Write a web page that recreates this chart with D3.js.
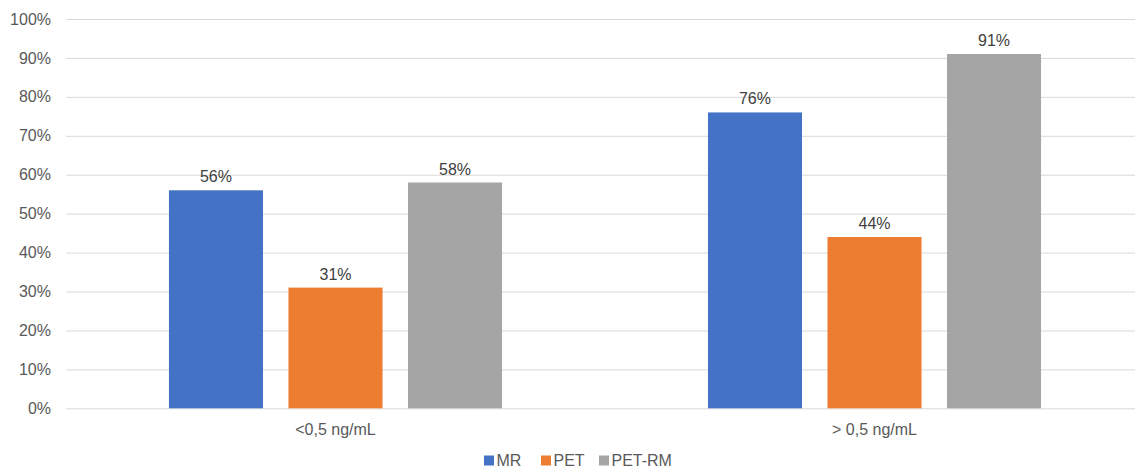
<!DOCTYPE html>
<html>
<head>
<meta charset="utf-8">
<script src="https://cdn.jsdelivr.net/npm/d3@7"></script>
<style>
  html, body { margin: 0; padding: 0; background: #fff; }
  svg { display: block; font-family: "Liberation Sans", Arial, sans-serif; }
</style>
</head>
<body>
<svg id="chart" width="1135" height="470"></svg>
<script>
// Detection rates by PSA level
const categories = ["<0,5 ng/mL", "> 0,5 ng/mL"];
const seriesNames = ["MR", "PET", "PET-RM"];
const seriesColors = ["#4472C4", "#ED7D31", "#A5A5A5"];
const mrValues = [56, 76];
const petValues = [31, 44];
const petRmValues = [58, 91];
const yTicks = [0, 10, 20, 30, 40, 50, 60, 70, 80, 90, 100];

const seriesValues = [mrValues, petValues, petRmValues];

const svg = d3.select("#chart");
const plotLeft = 66, plotRight = 1144, plotTop = 19, plotBottom = 408.3;

const x0 = d3.scaleBand().domain(categories).range([plotLeft, plotRight])
  .paddingInner(0.382).paddingOuter(0.191);
const x1 = d3.scaleBand().domain(seriesNames).range([0, x0.bandwidth()])
  .paddingInner(0.213).paddingOuter(0);
const y = d3.scaleLinear().domain([0, 100]).range([plotBottom, plotTop]);

// Horizontal gridlines and y labels
const yAxis = svg.append("g")
  .attr("transform", `translate(${plotLeft},0)`)
  .call(d3.axisLeft(y).tickValues(yTicks).tickFormat(d => d + "%")
    .tickSize(-(plotRight - plotLeft)).tickPadding(15));
yAxis.select(".domain").remove();
yAxis.selectAll(".tick line").attr("stroke", "#d9d9d9").attr("stroke-width", 1);
yAxis.selectAll(".tick text").attr("fill", "#595959").style("font-size", "16px")
  .style("font-family", "Liberation Sans, Arial, sans-serif");

// Bars
const groups = svg.append("g").selectAll("g")
  .data(categories).join("g")
  .attr("transform", d => `translate(${x0(d)},0)`);

groups.selectAll("rect")
  .data((d, i) => seriesNames.map((s, j) => ({ s, v: seriesValues[j][i], c: seriesColors[j] })))
  .join("rect")
  .attr("x", d => x1(d.s))
  .attr("y", d => y(d.v))
  .attr("width", x1.bandwidth())
  .attr("height", d => y(0) - y(d.v))
  .attr("fill", d => d.c);

groups.selectAll("text")
  .data((d, i) => seriesNames.map((s, j) => ({ s, v: seriesValues[j][i] })))
  .join("text")
  .attr("x", d => x1(d.s) + x1.bandwidth() / 2)
  .attr("y", d => y(d.v) - 8)
  .attr("text-anchor", "middle")
  .attr("fill", "#404040")
  .style("font-size", "16px")
  .text(d => d.v + "%");

// Category labels
const xAxis = svg.append("g")
  .attr("transform", `translate(0,${plotBottom})`)
  .call(d3.axisBottom(x0).tickSize(0).tickPadding(15));
xAxis.select(".domain").remove();
xAxis.selectAll(".tick text").attr("fill", "#595959").style("font-size", "16px")
  .style("font-family", "Liberation Sans, Arial, sans-serif");

// Legend
const legendX = [484, 541, 599];
const legend = svg.append("g").selectAll("g")
  .data(seriesNames).join("g")
  .attr("transform", (d, i) => `translate(${legendX[i]},455.5)`);
legend.append("rect")
  .attr("width", 10).attr("height", 10)
  .attr("fill", (d, i) => seriesColors[i]);
legend.append("text")
  .attr("x", 12.5).attr("y", 10.5)
  .attr("fill", "#595959")
  .style("font-size", "16px")
  .text(d => d);
</script>
</body>
</html>
